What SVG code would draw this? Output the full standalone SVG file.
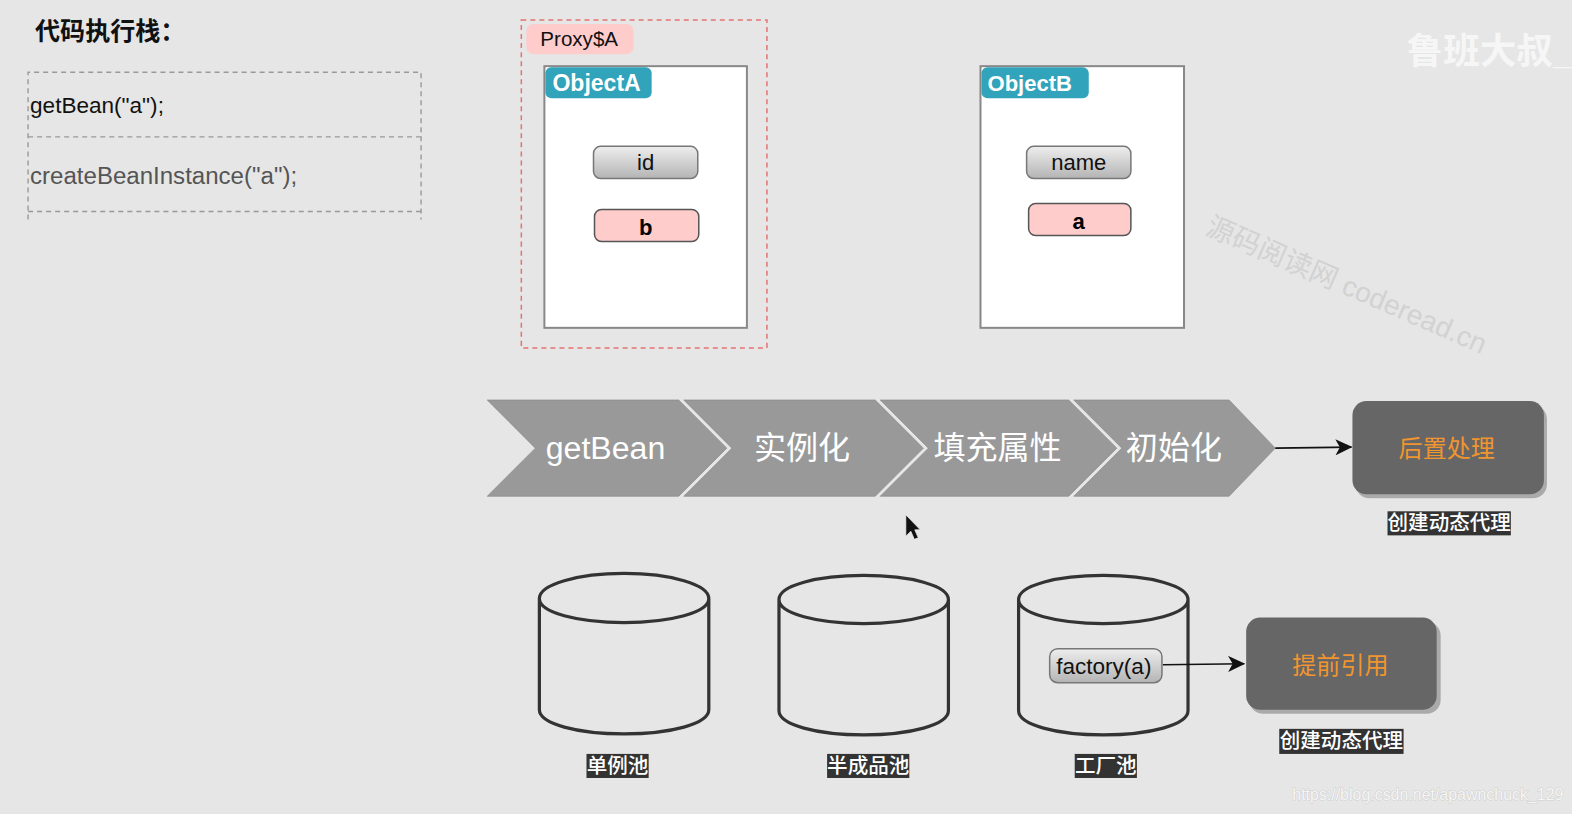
<svg xmlns="http://www.w3.org/2000/svg" width="1572" height="814" viewBox="0 0 1572 814">
<style>
text{font-family:"Liberation Sans","Noto Sans CJK SC",sans-serif}
.frame{fill:#fff;stroke:#888;stroke-width:2}
.hdr{fill:#31a3bb}
.hdrt{fill:#fff;font-size:23px;font-weight:bold}
.fld{fill:url(#g);stroke:#777;stroke-width:1.5}
.ref{fill:#fcc;stroke:#555;stroke-width:1.5}
.ft{font-size:22px;fill:#111;text-anchor:middle}
.rt{font-size:22px;font-weight:bold;fill:#000;text-anchor:middle}
.chev{fill:#999;stroke:#8a8a8a;stroke-width:.7}
.chevt{fill:#fff;font-size:32px;text-anchor:middle}
.cyl{fill:none;stroke:#333;stroke-width:3.2}
.dark{fill:#666}
.shadow{fill:#aaa}
.darkt{fill:#f0952f;font-size:24px;text-anchor:middle}
.lblbg{fill:#333}
.lbl{fill:#fff;font-size:20.5px;font-weight:500;text-anchor:middle}
.dash{fill:none;stroke:#999;stroke-width:1.4;stroke-dasharray:5 4}
.conn{fill:none;stroke:#111;stroke-width:1.6;marker-end:url(#arr)}
</style>
<defs>
<linearGradient id="g" x1="0" y1="0" x2="0" y2="1"><stop offset="0" stop-color="#eee"/><stop offset="1" stop-color="#b4b4b4"/></linearGradient>
<marker id="arr" markerUnits="userSpaceOnUse" markerWidth="18" markerHeight="16" refX="16" refY="8" orient="auto"><path d="M0 0L17 8L0 16L4.500 8Z" fill="#111"/></marker>
</defs>
<rect width="1572" height="814" fill="#e6e6e6"/>
<g transform="scale(1.00255)">
<g id="watermarks">
<text x="1403" y="64" font-size="36.5" font-weight="bold" fill="#f6f6f6">鲁班大叔_</text>
<text transform="translate(1201 233) rotate(23.500)" font-size="28" fill="#d2d2d2">源码阅读网 coderead.cn</text>
<text x="1289" y="798" font-size="15.900" fill="#f5f5f5" stroke="#cfcfcf" stroke-width="1" paint-order="stroke">https://blog.csdn.net/apawnchuck_129</text>
</g>

<g id="stack">
<text x="35" y="40" font-size="25" font-weight="bold" fill="#111">代码执行栈：</text>
<path class="dash" d="M28 219V72H420V219M28 136.500H420M28 211H420"/>
<text x="30" y="113" font-size="22.500" fill="#111">getBean("a");</text>
<text x="30" y="184" font-size="24" fill="#555">createBeanInstance("a");</text>
</g>

<g id="proxy">
<rect x="520" y="20" width="245" height="327" fill="none" stroke="#e57373" stroke-width="1.5" stroke-dasharray="5 4"/>
<rect x="525" y="24" width="107" height="30" rx="7" fill="#fcc"/>
<text x="539" y="46" font-size="20.500" fill="#111">Proxy$A</text>
</g>

<g id="objectA">
<rect class="frame" x="543" y="66" width="202" height="261"/>
<rect class="hdr" x="544" y="67" width="106" height="31" rx="6"/>
<text class="hdrt" x="551" y="91">ObjectA</text>
<rect class="fld" x="592" y="146" width="104" height="32" rx="7"/>
<text class="ft" x="644" y="170">id</text>
<rect class="ref" x="593" y="209" width="104" height="32" rx="7"/>
<text class="rt" x="644" y="234">b</text>
</g>

<g id="objectB">
<rect class="frame" x="978" y="66" width="203" height="261"/>
<rect class="hdr" x="979" y="67" width="107" height="31" rx="6"/>
<text class="hdrt" x="985" y="91" style="font-size:22px">ObjectB</text>
<rect class="fld" x="1024" y="146" width="104" height="32" rx="7"/>
<text class="ft" x="1076" y="170">name</text>
<rect class="ref" x="1026" y="203" width="102" height="32" rx="7"/>
<text class="rt" x="1076" y="228">a</text>
</g>

<g id="step-getBean">
<path class="chev" d="M486 399H677L725 447L677 495H486L534 447Z"/>
<text class="chevt" x="604" y="458">getBean</text>
</g>
<g id="step-instantiate">
<path class="chev" d="M682 399H873L921 447L873 495H682L730 447Z"/>
<text class="chevt" x="800" y="458">实例化</text>
</g>
<g id="step-populate">
<path class="chev" d="M878 399H1066L1114 447L1066 495H878L926 447Z"/>
<text class="chevt" x="995" y="458">填充属性</text>
</g>
<g id="step-init">
<path class="chev" d="M1071 399H1226L1272 447L1226 495H1071L1119 447Z"/>
<text class="chevt" x="1171" y="458">初始化</text>
</g>

<g id="post-process">
<rect class="shadow" x="1352" y="404" width="191" height="93" rx="14"/>
<rect class="dark" x="1349" y="400" width="191" height="93" rx="14"/>
<text class="darkt" x="1443" y="456">后置处理</text>
<rect class="lblbg" x="1384" y="510" width="123" height="24"/>
<text class="lbl" x="1445.500" y="529">创建动态代理</text>
</g>

<g id="pool-singleton">
<path class="cyl" d="M538 597C538 583 576 572 622.500 572S707 583 707 597C707 611 669 621 622.500 621S538 611 538 597V708C538 722 576 732 622.500 732S707 722 707 708V597"/>
<rect class="lblbg" x="585" y="752" width="62" height="24"/>
<text class="lbl" x="616" y="771">单例池</text>
</g>

<g id="pool-half">
<path class="cyl" d="M777 598C777 584 815 574 861.500 574S946 584 946 598C946 612 908 622 861.500 622S777 612 777 598V709C777 723 815 733 861.500 733S946 723 946 709V598"/>
<rect class="lblbg" x="825" y="752" width="82" height="24"/>
<text class="lbl" x="866" y="771">半成品池</text>
</g>

<g id="pool-factory">
<path class="cyl" d="M1016 598C1016 584 1054 574 1100.500 574S1185 584 1185 598C1185 612 1147 622 1100.500 622S1016 612 1016 598V709C1016 723 1054 733 1100.500 733S1185 723 1185 709V598"/>
<rect class="lblbg" x="1072" y="752" width="62" height="24"/>
<text class="lbl" x="1103" y="771">工厂池</text>
</g>

<g id="factory-a">
<rect class="fld" x="1047" y="647" width="112" height="34" rx="8"/>
<text class="ft" x="1101" y="672" style="font-size:22.500px">factory(a)</text>
</g>

<g id="early-ref">
<rect class="shadow" x="1246" y="620" width="191" height="92" rx="14"/>
<rect class="dark" x="1243" y="616" width="190" height="92" rx="14"/>
<text class="darkt" x="1337" y="672">提前引用</text>
<rect class="lblbg" x="1276" y="727" width="124" height="25"/>
<text class="lbl" x="1338" y="746">创建动态代理</text>
</g>

<g id="connectors">
<path class="conn" d="M1272 447L1348 446"/>
<path class="conn" d="M1160 663L1241 662"/>
</g>

<g id="cursor">
<path d="M903.500 513.500V535L908.500 530L912 538L916 536.500L912.500 528.500H918Z" fill="#111" stroke="#eee" stroke-width=".8"/>
</g>
</g>
</svg>
